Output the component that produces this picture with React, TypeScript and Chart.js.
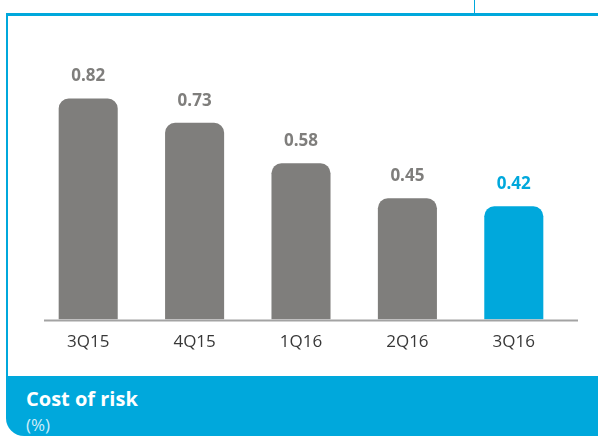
import React, { useEffect, useRef } from "react";
import { Chart, registerables } from "chart.js";

Chart.register(...registerables);

const categories = ["3Q15", "4Q15", "1Q16", "2Q16", "3Q16"];
const costOfRisk = [0.82, 0.73, 0.58, 0.45, 0.42];
const valueLabels = ["0.82", "0.73", "0.58", "0.45", "0.42"];

const GRAY = "#7f7e7c";
const BLUE = "#00a8dc";
const FONT = "'Open Sans', 'Noto Sans', sans-serif";

export default function App() {
  const ref = useRef<HTMLCanvasElement | null>(null);

  useEffect(() => {
    if (!ref.current) return;
    const colors = categories.map((_, i) => (i === categories.length - 1 ? BLUE : GRAY));
    const labelPlugin = {
      id: "valueLabels",
      afterDatasetsDraw(chart: any) {
        const ctx = chart.ctx;
        const meta = chart.getDatasetMeta(0);
        ctx.save();
        ctx.font = `bold 17px ${FONT}`;
        ctx.textAlign = "center";
        ctx.textBaseline = "middle";
        meta.data.forEach((bar: any, i: number) => {
          ctx.fillStyle = colors[i];
          ctx.fillText(valueLabels[i], bar.x, bar.y - 22);
        });
        // axis baseline
        const y = chart.scales.y.getPixelForValue(0);
        ctx.strokeStyle = "#a3a3a3";
        ctx.lineWidth = 2;
        ctx.beginPath();
        ctx.moveTo(chart.chartArea.left + 9, y + 1);
        ctx.lineTo(chart.chartArea.right + 11, y + 1);
        ctx.stroke();
        ctx.restore();
      },
    };
    const chart = new Chart(ref.current, {
      type: "bar",
      data: {
        labels: categories,
        datasets: [
          {
            data: costOfRisk,
            backgroundColor: colors,
            borderRadius: { topLeft: 10, topRight: 10, bottomLeft: 0, bottomRight: 0 },
            borderSkipped: false,
            barPercentage: 0.555,
            categoryPercentage: 1,
          },
        ],
      },
      options: {
        animation: false,
        responsive: false,
        maintainAspectRatio: false,
        layout: { padding: { left: 35, right: 31, top: 36, bottom: 8 } },
        plugins: { legend: { display: false }, tooltip: { enabled: false } },
        scales: {
          x: {
            grid: { display: false, drawTicks: false },
            border: { display: false },
            ticks: { color: "#383838", font: { family: FONT, size: 17 }, padding: 12 },
          },
          y: {
            display: false,
            min: 0,
            max: 1,
          },
        },
      },
      plugins: [labelPlugin],
    });
    return () => chart.destroy();
  }, []);

  return (
    <div style={{ position: "fixed", left: 0, top: 0, width: 598, height: 436, background: "#fff", overflow: "hidden" }}>
      <div style={{ position: "absolute", left: 474, top: 0, width: 1, height: 14, background: BLUE }} />
      <div style={{ position: "absolute", left: 6, top: 13, width: 592, height: 3, background: BLUE }} />
      <div style={{ position: "absolute", left: 6, top: 13, width: 2, height: 370, background: BLUE }} />
      <canvas ref={ref} width={598} height={358} style={{ position: "absolute", left: 0, top: 14, width: 598, height: 358 }} />
      <div
        style={{
          position: "absolute",
          left: 6,
          top: 376,
          width: 592,
          height: 60,
          background: BLUE,
          borderBottomLeftRadius: 18,
        }}
      >
        <div style={{ position: "absolute", left: 20, top: 13, color: "#fff", fontFamily: FONT, fontWeight: 700, fontSize: 20, lineHeight: "20px", whiteSpace: "nowrap" }}>
          Cost of risk
        </div>
        <div style={{ position: "absolute", left: 20, top: 40, color: "rgba(255,255,255,0.82)", fontFamily: FONT, fontSize: 17, lineHeight: "17px", whiteSpace: "nowrap" }}>
          (%)
        </div>
      </div>
    </div>
  );
}
